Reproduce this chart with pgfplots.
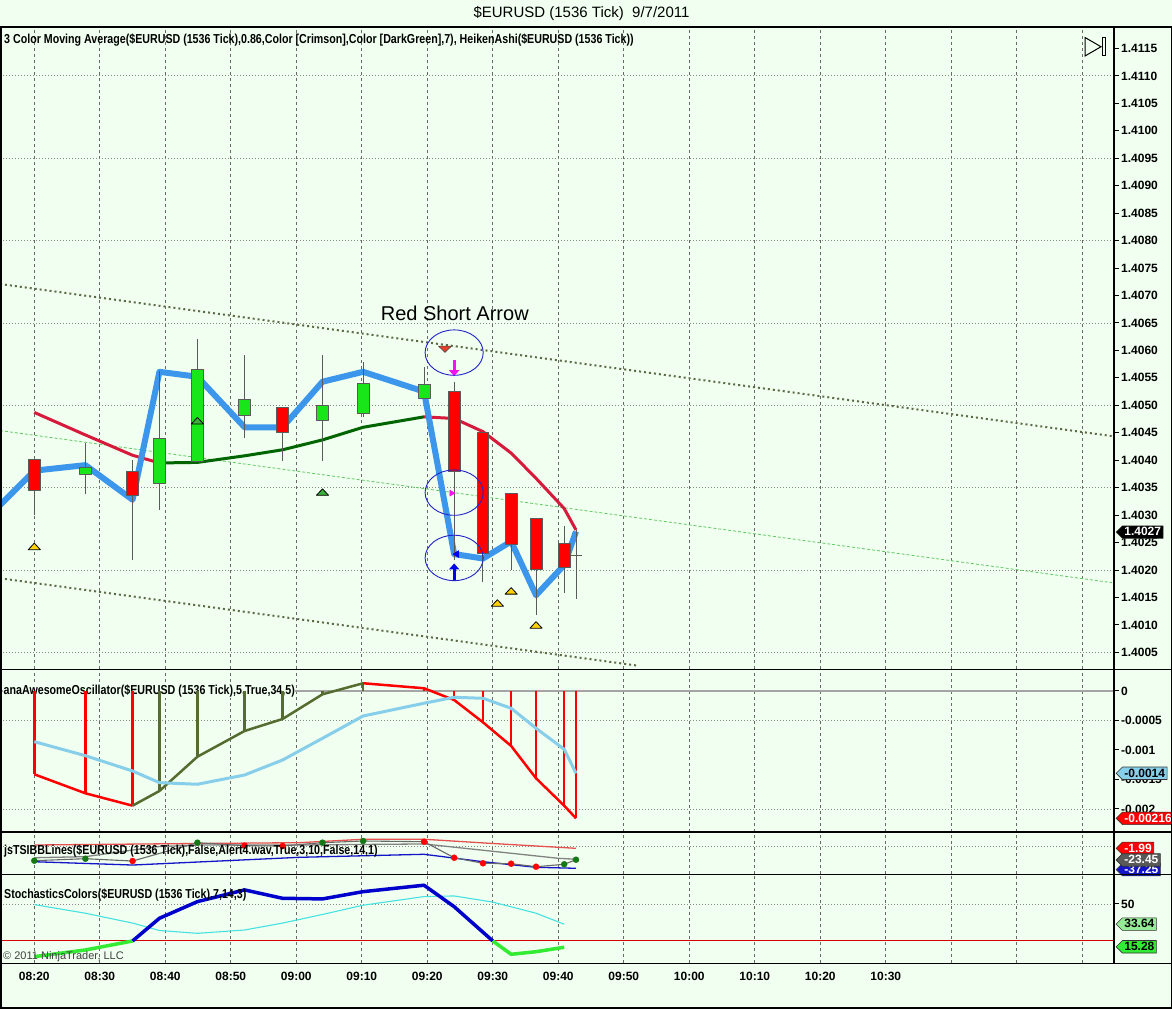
\documentclass[border=0pt]{standalone}
\usepackage{fontspec}
\setmainfont{Liberation Sans}
\newfontfamily\lblfont[FakeStretch=0.82]{Liberation Sans}
\usepackage{pgfplots}
\pgfplotsset{compat=1.18}
\usetikzlibrary{shapes.symbols,arrows.meta}
\definecolor{bg}{RGB}{240,255,240}
\definecolor{candred}{RGB}{255,0,0}
\definecolor{candgreen}{RGB}{25,230,25}
\definecolor{hablue}{RGB}{60,150,235}
\definecolor{crim}{RGB}{215,25,60}
\definecolor{dkgreen}{RGB}{0,100,0}
\definecolor{olivegr}{RGB}{85,107,47}
\definecolor{chan}{RGB}{95,105,70}
\definecolor{midchan}{RGB}{100,200,100}
\definecolor{gold}{RGB}{255,210,0}
\definecolor{trigreen}{RGB}{60,175,60}
\definecolor{skyb}{RGB}{135,206,235}
\definecolor{stk}{RGB}{0,0,205}
\definecolor{stgreen}{RGB}{50,235,50}
\definecolor{stD}{RGB}{70,225,225}
\definecolor{gridc}{RGB}{105,105,105}
\definecolor{wickc}{RGB}{90,90,90}
\definecolor{zgray}{RGB}{165,165,165}
\definecolor{elblue}{RGB}{35,35,200}
\definecolor{arrblue}{RGB}{0,0,235}
\definecolor{magarr}{RGB}{240,20,240}
\definecolor{tsired}{RGB}{230,80,80}
\definecolor{tsigray}{RGB}{130,130,130}
\definecolor{tsiblue}{RGB}{20,20,200}
\definecolor{dotgreen}{RGB}{20,120,20}
\definecolor{lgreen}{RGB}{150,235,150}
\newcommand{\tlf}{\fontsize{12}{12}\selectfont\bfseries}
\newcommand{\lbf}{\lblfont\fontsize{13}{13}\selectfont\bfseries}
\tikzset{flag/.style 2 args={signal, signal to=west, fill=#1, text=#2, draw=black!80,
  line width=0.6pt, inner xsep=2pt, inner ysep=1pt, text height=9pt, text depth=1.5pt,
  anchor=west, font=\tlf}}
\pgfplotsset{
 panel/.style={
  scale only axis, width=1114pt, anchor=south west,
  xmin=-0.524, xmax=16.484, clip=false,
  axis line style={draw=none},
  xtick=\empty,
  extra x ticks={0,1,...,16}, extra x tick labels={},
  extra x tick style={grid=major, major tick length=0pt,
     major grid style={gridc, dash pattern=on 3pt off 3pt, line width=0.9pt}},
  ytick pos=right, yticklabel pos=right, tick align=outside,
  major tick length=5pt, tick style={black, line width=1pt},
  yticklabel style={font=\tlf, inner xsep=2pt},
  scaled y ticks=false,
  every axis plot/.append style={line join=round},
 },
 ygrid/.style={extra y ticks={#1}, extra y tick labels={},
  extra y tick style={grid=major, major tick length=0pt,
   major grid style={gridc!80, dash pattern=on 1pt off 2pt, line width=0.9pt}}},
}
\begin{document}
\begin{tikzpicture}[x=1pt,y=1pt]
\useasboundingbox (0,0) rectangle (1172,1009);
\fill[bg] (0,0) rectangle (1172,1009);

%================ MAIN PRICE PANEL ================
\begin{axis}[panel, at={(0pt,339.5pt)}, height=642.5pt,
  ymin=1.400188, ymax=1.411891,
  ytick={1.4005,1.4010,1.4015,1.4020,1.4025,1.4030,1.4035,1.4040,1.4045,1.4050,1.4055,1.4060,1.4065,1.4070,1.4075,1.4080,1.4085,1.4090,1.4095,1.4100,1.4105,1.4110,1.4115},
  yticklabels={1.4005,1.4010,1.4015,1.4020,1.4025,1.4030,1.4035,1.4040,1.4045,1.4050,1.4055,1.4060,1.4065,1.4070,1.4075,1.4080,1.4085,1.4090,1.4095,1.4100,1.4105,1.4110,1.4115},
  ygrid={1.4005,1.4020,1.4035,1.4050,1.4065,1.4080,1.4095,1.4110}]
% channel lines
\addplot[chan, line width=2pt, dash pattern=on 2pt off 3pt] coordinates {(-0.524,1.40721) (16.45,1.40444)};
\addplot[chan, line width=2pt, dash pattern=on 2pt off 3pt] coordinates {(-0.524,1.40185) (9.20,1.40026)};
\addplot[midchan, line width=0.8pt, dash pattern=on 3pt off 2pt] coordinates {(-0.524,1.40454) (16.45,1.40177)};
% 3 color moving average
\addplot[crim, line width=3pt] coordinates {(0,1.40487) (0.78,1.40446) (1.50,1.40409) (1.91,1.40395)};
\addplot[dkgreen, line width=3pt] coordinates {(1.91,1.40395) (2.49,1.40396) (3.21,1.40408) (3.79,1.40419) (4.40,1.40437) (5.02,1.40460) (5.95,1.40479)};
\addplot[crim, line width=3pt] coordinates {(5.95,1.40479) (6.41,1.40476) (6.85,1.40452) (7.28,1.40413) (7.66,1.40367) (8.09,1.40312) (8.27,1.40273)};
% blue line
\addplot[hablue, line width=6pt] coordinates {(-0.524,1.40318) (0,1.40381) (0.78,1.40391) (1.50,1.40328) (1.91,1.40561) (2.49,1.40552) (3.21,1.40460) (3.79,1.40460) (4.40,1.40543) (5.02,1.40561) (5.95,1.40525) (6.41,1.40229) (6.85,1.40221) (7.28,1.40252) (7.66,1.40154) (8.09,1.40209) (8.27,1.40270)};
% wicks
\addplot[wickc, line width=1pt, unbounded coords=jump] coordinates {
(0,1.40300) (0,1.40402) (0,nan)
(0.78,1.40338) (0.78,1.40432) (0.78,nan)
(1.50,1.40218) (1.50,1.40400) (1.50,nan)
(1.91,1.40309) (1.91,1.40563) (1.91,nan)
(2.49,1.40397) (2.49,1.40621) (2.49,nan)
(3.21,1.40440) (3.21,1.40592) (3.21,nan)
(3.79,1.40399) (3.79,1.40496) (3.79,nan)
(4.40,1.40399) (4.40,1.40592) (4.40,nan)
(5.02,1.40478) (5.02,1.40579) (5.02,nan)
(5.95,1.40513) (5.95,1.40570) (5.95,nan)
(6.41,1.40218) (6.41,1.40543) (6.41,nan)
(6.85,1.40179) (6.85,1.40451) (6.85,nan)
(7.28,1.40200) (7.28,1.40340) (7.28,nan)
(7.66,1.40118) (7.66,1.40294) (7.66,nan)
(8.09,1.40158) (8.09,1.40280) (8.09,nan)
(8.27,1.40148) (8.27,1.40273)};
% candle bodies
\addplot[fill=candred, draw=wickc, line width=0.8pt] coordinates {(-0.09,1.40402) (0.09,1.40402) (0.09,1.40345) (-0.09,1.40345)} -- cycle;
\addplot[fill=candgreen, draw=wickc, line width=0.8pt] coordinates {(0.69,1.40374) (0.87,1.40374) (0.87,1.40386) (0.69,1.40386)} -- cycle;
\addplot[fill=candred, draw=wickc, line width=0.8pt] coordinates {(1.41,1.40380) (1.59,1.40380) (1.59,1.40335) (1.41,1.40335)} -- cycle;
\addplot[fill=candgreen, draw=wickc, line width=0.8pt] coordinates {(1.82,1.40357) (2.00,1.40357) (2.00,1.40440) (1.82,1.40440)} -- cycle;
\addplot[fill=candgreen, draw=wickc, line width=0.8pt] coordinates {(2.40,1.40397) (2.58,1.40397) (2.58,1.40566) (2.40,1.40566)} -- cycle;
\addplot[fill=candgreen, draw=wickc, line width=0.8pt] coordinates {(3.12,1.40482) (3.30,1.40482) (3.30,1.40511) (3.12,1.40511)} -- cycle;
\addplot[fill=candred, draw=wickc, line width=0.8pt] coordinates {(3.70,1.40496) (3.88,1.40496) (3.88,1.40451) (3.70,1.40451)} -- cycle;
\addplot[fill=candgreen, draw=wickc, line width=0.8pt] coordinates {(4.31,1.40473) (4.49,1.40473) (4.49,1.40499) (4.31,1.40499)} -- cycle;
\addplot[fill=candgreen, draw=wickc, line width=0.8pt] coordinates {(4.93,1.40485) (5.11,1.40485) (5.11,1.40540) (4.93,1.40540)} -- cycle;
\addplot[fill=candgreen, draw=wickc, line width=0.8pt] coordinates {(5.86,1.40513) (6.04,1.40513) (6.04,1.40538) (5.86,1.40538)} -- cycle;
\addplot[fill=candred, draw=wickc, line width=0.8pt] coordinates {(6.32,1.40526) (6.50,1.40526) (6.50,1.40379) (6.32,1.40379)} -- cycle;
\addplot[fill=candred, draw=wickc, line width=0.8pt] coordinates {(6.76,1.40451) (6.94,1.40451) (6.94,1.40230) (6.76,1.40230)} -- cycle;
\addplot[fill=candred, draw=wickc, line width=0.8pt] coordinates {(7.19,1.40340) (7.37,1.40340) (7.37,1.40247) (7.19,1.40247)} -- cycle;
\addplot[fill=candred, draw=wickc, line width=0.8pt] coordinates {(7.57,1.40294) (7.75,1.40294) (7.75,1.40201) (7.57,1.40201)} -- cycle;
\addplot[fill=candred, draw=wickc, line width=0.8pt] coordinates {(8.00,1.40249) (8.18,1.40249) (8.18,1.40205) (8.00,1.40205)} -- cycle;
\addplot[wickc, line width=1pt] coordinates {(8.175,1.40227) (8.365,1.40227)};
% triangles
\addplot[only marks, mark=triangle*, mark size=7pt, mark options={fill=gold, draw=black, line width=0.8pt, yscale=0.62}] coordinates {(0,1.40241) (7.07,1.40138) (7.28,1.40160) (7.66,1.40098)};
\addplot[only marks, mark=triangle*, mark size=7pt, mark options={fill=trigreen, draw=black, line width=0.8pt, yscale=0.62}] coordinates {(2.49,1.40470) (4.40,1.40340)};
\addplot[only marks, mark=triangle*, mark size=7.5pt, mark options={fill={rgb,255:red,230;green,60;blue,40}, draw=black!70, line width=0.6pt, rotate=180, yscale=0.55}] coordinates {(6.27,1.40604)};
\addplot[only marks, mark=triangle*, mark size=3.5pt, mark options={fill=magarr, draw=magarr, rotate=-90}] coordinates {(6.37,1.40340)};
\addplot[only marks, mark=triangle*, mark size=4pt, mark options={fill=arrblue, draw=arrblue, rotate=90}] coordinates {(6.45,1.40229)};
% arrows
\addplot[magarr, line width=3pt, -{Triangle[length=6pt,width=10pt]}] coordinates {(6.41,1.40582) (6.41,1.40553)};
\addplot[arrblue, line width=3pt, -{Triangle[length=6pt,width=10pt]}] coordinates {(6.41,1.40182) (6.41,1.40212)};
% ellipses
\addplot[only marks, mark=o, mark size=22.7pt, mark options={xscale=1.28, draw=elblue, line width=0.9pt, fill=white, fill opacity=0.15}] coordinates {(6.41,1.40596) (6.41,1.40341) (6.41,1.40222)};
\node[font=\fontsize{20}{20}\selectfont] at (axis cs:6.42,1.40668) {Red Short Arrow};
\node[flag={black}{white}] at (axis cs:16.51,1.40269) {1.4027};
\end{axis}

%================ AWESOME OSCILLATOR ================
\begin{axis}[panel, at={(0pt,177pt)}, height=162.5pt,
  ymin=-0.00239, ymax=0.000364,
  ytick={-0.002,-0.0015,-0.001,-0.0005,0},
  yticklabels={-0.002,-0.0015,-0.001,-0.0005,0},
  ygrid={-0.002,-0.0005}]
\addplot[zgray, line width=2pt] coordinates {(-0.524,0) (16.484,0)};
\node[anchor=west, fill=bg, inner sep=0.5pt, font=\lbf] at (axis cs:-0.478,0) {anaAwesomeOscillator(\$EURUSD (1536 Tick),5,True,34,5)};
\addplot[candred, line width=2.5pt, unbounded coords=jump] coordinates {
(0,0) (0,-0.001412) (0,nan) (0.78,0) (0.78,-0.001734) (0.78,nan) (1.50,0) (1.50,-0.001944) (1.50,nan)
(5.95,0) (5.95,0.000046) (5.95,nan) (6.41,0) (6.41,-0.000153) (6.41,nan) (6.85,0) (6.85,-0.000531) (6.85,nan)
(7.28,0) (7.28,-0.000932) (7.28,nan) (7.66,0) (7.66,-0.001480) (7.66,nan) (8.09,0) (8.09,-0.001944) (8.09,nan)
(8.27,0) (8.27,-0.002158)};
\addplot[olivegr, line width=2.5pt, unbounded coords=jump] coordinates {
(1.91,0) (1.91,-0.001695) (1.91,nan) (2.49,0) (2.49,-0.001114) (2.49,nan) (3.21,0) (3.21,-0.000678) (3.21,nan)
(3.79,0) (3.79,-0.000475) (3.79,nan) (4.40,0) (4.40,-0.000056) (4.40,nan) (5.02,0) (5.02,0.000131)};
\addplot[candred, line width=2.5pt] coordinates {(0,-0.001412) (0.78,-0.001734) (1.50,-0.001944)};
\addplot[olivegr, line width=2.5pt] coordinates {(1.50,-0.001944) (1.91,-0.001695) (2.49,-0.001114) (3.21,-0.000678) (3.79,-0.000475) (4.40,-0.000056) (5.02,0.000131)};
\addplot[candred, line width=2.5pt] coordinates {(5.02,0.000131) (5.95,0.000046) (6.41,-0.000153) (6.85,-0.000531) (7.28,-0.000932) (7.66,-0.001480) (8.09,-0.001944) (8.27,-0.002158)};
\addplot[skyb, line width=3pt] coordinates {(0,-0.000859) (0.78,-0.001097) (1.50,-0.001356) (1.91,-0.001554) (2.49,-0.001581) (3.21,-0.001424) (3.79,-0.001170) (4.40,-0.000802) (5.02,-0.000424) (5.95,-0.000208) (6.41,-0.000107) (6.85,-0.000124) (7.28,-0.000293) (7.66,-0.000632) (8.09,-0.000988) (8.27,-0.001395)};
\node[flag={skyb}{black}] at (axis cs:16.51,-0.001395) {-0.0014};
\node[flag={candred}{white}] at (axis cs:16.51,-0.002158) {-0.00216};
\end{axis}

%================ jsTSIBBLines ================
\begin{axis}[panel, at={(0pt,134.5pt)}, height=42.5pt,
  ymin=-47.9, ymax=25.3, ytick=\empty, ygrid={0}]
\addplot[tsired, line width=1.3pt] coordinates {(0,2.9) (2.49,5.5) (4.05,6.9) (5.02,12.8) (5.95,12.8) (7.0,5.5) (8.27,-2.8)};
\addplot[tsigray, line width=1.3pt] coordinates {(0,-19) (0.78,-17.2) (1.87,0) (2.49,2.9) (4.05,2.9) (5.95,4.7) (8.0,-20) (8.27,-21.7)};
\addplot[tsiblue, line width=1.3pt] coordinates {(0,-25.9) (1.50,-31.6) (4.05,-18.3) (5.95,-13.1) (6.85,-25.9) (7.66,-35.5) (8.27,-37.2)};
\addplot[tsigray!80!black, line width=1.1pt] coordinates {(0,-24.1) (0.78,-20.7) (1.50,-24.7) (2.49,6.9) (3.21,1.7) (3.79,1.2) (4.40,6.9) (5.02,9.8) (5.95,8.6) (6.41,-19.0) (6.85,-28.6) (7.28,-29.3) (7.66,-34.5) (8.09,-30.3) (8.27,-22.4)};
\addplot[only marks, mark=*, mark size=3pt, mark options={fill=dotgreen, draw=dotgreen}] coordinates {(0,-24.1) (0.78,-20.7) (2.49,6.9) (4.40,6.9) (5.02,9.8) (8.09,-30.3) (8.27,-22.4)};
\addplot[only marks, mark=*, mark size=3pt, mark options={fill=candred, draw=candred}] coordinates {(1.50,-24.7) (3.21,1.7) (3.79,1.2) (5.95,8.6) (6.41,-19.0) (6.85,-28.6) (7.28,-29.3) (7.66,-34.5)};
\node[flag={candred}{white}] at (axis cs:16.51,-2.8) {-1.99};
\node[flag={tsiblue}{white}] at (axis cs:16.51,-39.5) {-37.25};
\node[flag={black!65}{white}] at (axis cs:16.51,-22.9) {-23.45};
\end{axis}

%================ Stochastics ================
\begin{axis}[panel, at={(0pt,45.7pt)}, height=88.8pt,
  ymin=1.9, ymax=73.9, ytick={50}, yticklabels={50}, ygrid={50},
  xtick={0,1,...,13},
  xticklabels={08:20,08:30,08:40,08:50,09:00,09:10,09:20,09:30,09:40,09:50,10:00,10:10,10:20,10:30},
  xticklabel style={font=\tlf},
  major x tick style={draw=none}]
\addplot[candred!85!black, line width=1pt] coordinates {(-0.524,20) (16.484,20)};
\addplot[stD, line width=1.1pt] coordinates {(0,49.5) (0.78,42.5) (1.50,34.5) (1.91,28.5) (2.49,26.2) (3.21,28.9) (3.79,34.5) (4.40,41.5) (5.02,49) (5.95,56) (6.41,56.5) (7.00,51.5) (7.66,42.5) (8.09,33.6)};
\addplot[stgreen, line width=3.5pt] coordinates {(0,7.3) (0.78,12.7) (1.50,20)};
\addplot[stk, line width=3.5pt] coordinates {(1.50,20) (1.91,38.4) (2.49,51.9) (3.21,61.4) (3.79,54.6) (4.40,54.1) (5.02,60.0) (5.95,65.2) (6.41,47.8) (7.00,20)};
\addplot[stgreen, line width=3.5pt] coordinates {(7.00,20) (7.28,9.2) (7.66,11.3) (8.09,14.9)};
\node[flag={lgreen}{black}] at (axis cs:16.51,33.64) {33.64};
\node[flag={stgreen}{black}] at (axis cs:16.51,15.28) {15.28};
\end{axis}

%================ frame, labels ================
\draw[black, line width=1.5pt] (0,982) -- (1172,982);
\draw[black, line width=1.5pt] (0,339.5) -- (1172,339.5);
\draw[black, line width=1.5pt] (0,177) -- (1172,177);
\draw[black, line width=1.5pt] (0,134.5) -- (1172,134.5);
\draw[black, line width=1.5pt] (0,45.7) -- (1172,45.7);
\draw[black, line width=1.2pt] (1114,982) -- (1114,45.7);
\draw[black, line width=1.5pt] (0.75,982) -- (0.75,1.2) -- (1171.25,1.2) -- (1171.25,982);
\draw[black, line width=1pt] (1085,971.5) -- (1085,953) -- (1101,962.25) -- cycle;
\draw[black, line width=1pt] (1102.5,971.5) rectangle (1105.5,953);
\node[font=\fontsize{15}{15}\selectfont] at (581.5,995) {\$EURUSD (1536 Tick)\ \ 9/7/2011};
\node[anchor=west, inner sep=0pt, font=\lbf] at (4,969) {3 Color Moving Average(\$EURUSD (1536 Tick),0.86,Color [Crimson],Color [DarkGreen],7), HeikenAshi(\$EURUSD (1536 Tick))};
\node[anchor=west, inner sep=0pt, font=\lbf] at (4,157.5) {jsTSIBBLines(\$EURUSD (1536 Tick),False,Alert4.wav,True,3,10,False,14,1)};
\node[anchor=west, inner sep=0pt, font=\lbf] at (4,114) {StochasticsColors(\$EURUSD (1536 Tick),7,14,3)};
\node[anchor=west, inner sep=0pt, text=black!75, font=\fontsize{11}{11}\selectfont] at (3,52) {\textcopyright\ 2011 NinjaTrader, LLC};
\end{tikzpicture}
\end{document}
